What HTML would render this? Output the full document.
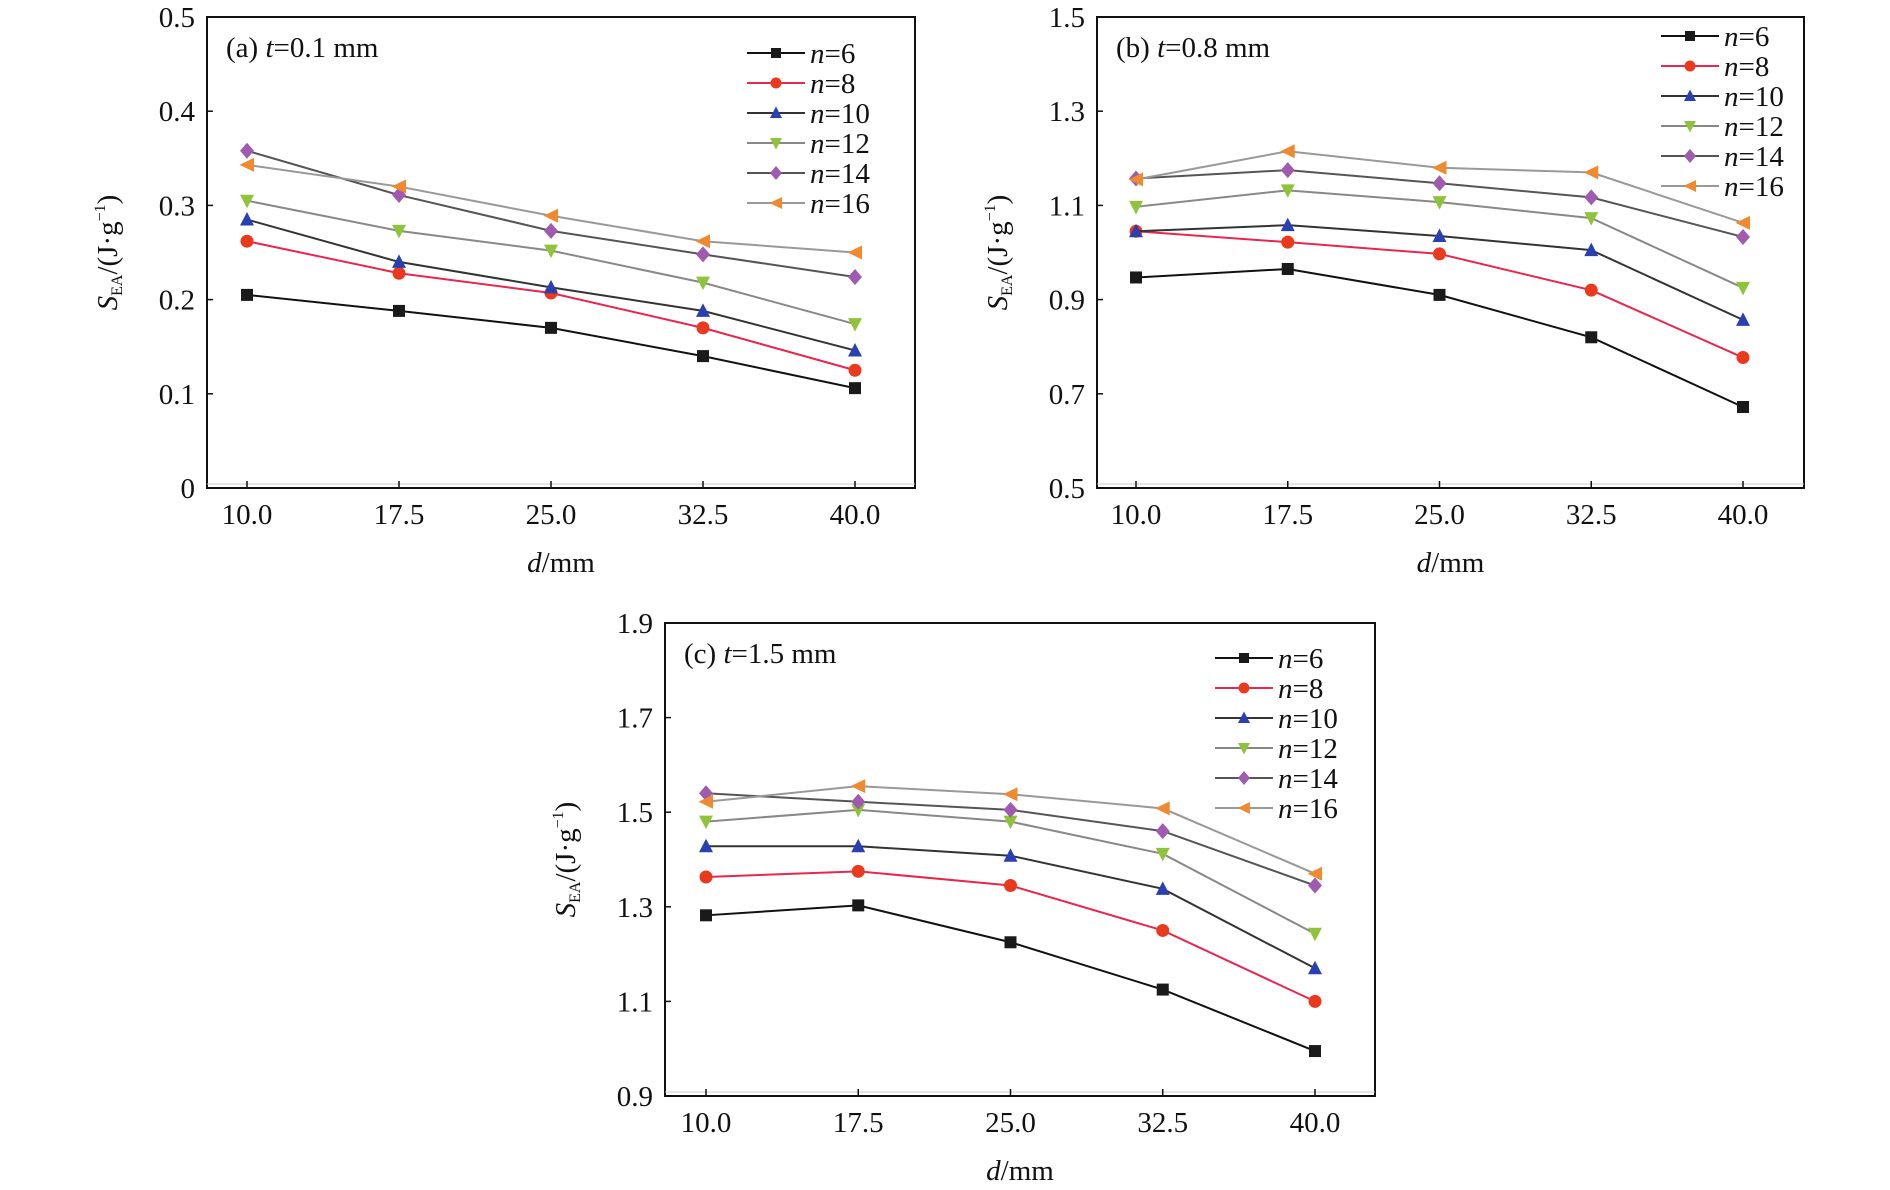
<!DOCTYPE html>
<html><head><meta charset="utf-8">
<style>
html,body{margin:0;padding:0;background:#fff;}
svg{display:block;font-family:"Liberation Serif","Times New Roman",serif;}
</style></head>
<body>
<svg id="fig" width="1890" height="1190" viewBox="0 0 1890 1190" xmlns="http://www.w3.org/2000/svg"></svg>
<script>
const categories = [10.0, 17.5, 25.0, 32.5, 40.0];
const xTickLabels = ["10.0","17.5","25.0","32.5","40.0"];
const seriesNames = ["6","8","10","12","14","16"];

const aN6  = [0.205,0.188,0.170,0.140,0.106];
const aN8  = [0.262,0.228,0.207,0.170,0.125];
const aN10 = [0.285,0.240,0.213,0.188,0.146];
const aN12 = [0.305,0.273,0.252,0.218,0.174];
const aN14 = [0.358,0.311,0.273,0.248,0.224];
const aN16 = [0.343,0.320,0.289,0.262,0.250];
const aYTicks = ["0","0.1","0.2","0.3","0.4","0.5"];

const bN6  = [0.947,0.965,0.910,0.820,0.672];
const bN8  = [1.045,1.022,0.997,0.920,0.777];
const bN10 = [1.045,1.058,1.035,1.005,0.857];
const bN12 = [1.097,1.132,1.107,1.073,0.925];
const bN14 = [1.157,1.175,1.147,1.117,1.033];
const bN16 = [1.155,1.215,1.180,1.170,1.063];
const bYTicks = ["0.5","0.7","0.9","1.1","1.3","1.5"];

const cN6  = [1.282,1.303,1.225,1.125,0.995];
const cN8  = [1.363,1.375,1.345,1.250,1.100];
const cN10 = [1.428,1.428,1.408,1.338,1.170];
const cN12 = [1.480,1.505,1.480,1.412,1.243];
const cN14 = [1.540,1.522,1.505,1.460,1.345];
const cN16 = [1.522,1.555,1.538,1.508,1.370];
const cYTicks = ["0.9","1.1","1.3","1.5","1.7","1.9"];

const NS="http://www.w3.org/2000/svg";
const svg=document.getElementById('fig');
function el(tag,attrs,parent){const e=document.createElementNS(NS,tag);for(const k in attrs)e.setAttribute(k,attrs[k]);(parent||svg).appendChild(e);return e;}

const styles=[
 {line:"#111",fill:"#1a1a1a",shape:"square"},
 {line:"#e8264e",fill:"#ea3a1e",shape:"circle"},
 {line:"#333",fill:"#2a3fb0",shape:"up"},
 {line:"#888",fill:"#8fc43a",shape:"down"},
 {line:"#555",fill:"#a05ab0",shape:"diamond"},
 {line:"#999",fill:"#f08a30",shape:"left"}
];
function marker(g,shape,x,y,fill,s){
  let m;
  if(shape==="square") m=el('rect',{x:x-s,y:y-s,width:2*s,height:2*s,fill:fill},g);
  else if(shape==="circle") m=el('circle',{cx:x,cy:y,r:s+0.5,fill:fill},g);
  else if(shape==="up") m=el('polygon',{points:`${x},${y-s-1.5} ${x-s-1},${y+s} ${x+s+1},${y+s}`,fill:fill},g);
  else if(shape==="down") m=el('polygon',{points:`${x},${y+s+1.5} ${x-s-1},${y-s} ${x+s+1},${y-s}`,fill:fill},g);
  else if(shape==="diamond") m=el('polygon',{points:`${x},${y-s-2} ${x+s+1},${y} ${x},${y+s+2} ${x-s-1},${y}`,fill:fill},g);
  else m=el('polygon',{points:`${x-s-1.5},${y} ${x+s+1},${y-s-1} ${x+s+1},${y+s+1}`,fill:fill},g);
  return m;
}

function panel(cfg){
  const g=el('g',{});
  
  
  const {L,R,T,B,x0px,x1px,ymin,ymax}=cfg;
  const xs=v=>x0px+(v-categories[0])/(categories[4]-categories[0])*(x1px-x0px);
  const ys=v=>B-(v-ymin)/(ymax-ymin)*(B-T);
  const frame=el('rect',{x:L,y:T,width:R-L,height:B-T,fill:"none",stroke:"#111","stroke-width":2},g);
  
  
  el('line',{x1:L,y1:B-4,x2:R,y2:B-4,stroke:"#ccc","stroke-width":1},g);
  // y ticks
  cfg.yTicks.forEach(t=>{
    const v=parseFloat(t),y=ys(v);
    el('line',{x1:L,y1:y,x2:L+6,y2:y,stroke:"#111","stroke-width":1.5},g);
    const tx=el('text',{x:L-12,y:y+10,"text-anchor":"end","font-size":29,fill:"#111"},g);
    tx.textContent=t;
    
    
  });
  categories.forEach((c,i)=>{
    const x=xs(c);
    el('line',{x1:x,y1:B,x2:x,y2:B-7,stroke:"#111","stroke-width":1.5},g);
    const tx=el('text',{x:x,y:B+36,"text-anchor":"middle","font-size":29,fill:"#111"},g);
    tx.textContent=xTickLabels[i];
    
    
  });
  // axis titles
  const xt=el('text',{x:(L+R)/2,y:B+84,"text-anchor":"middle","font-size":29,fill:"#111"},g);
  xt.innerHTML='<tspan font-style="italic">d</tspan>/mm';
  
  
  const ytx=L-90, yty=(T+B)/2;
  const yt=el('text',{x:ytx,y:yty,"text-anchor":"middle","font-size":29,fill:"#111",transform:`rotate(-90 ${ytx} ${yty})`},g);
  yt.innerHTML='<tspan font-style="italic">S</tspan><tspan font-size="16" dy="5">EA</tspan><tspan dy="-5">/(J·g</tspan><tspan font-size="16" dy="-12">−1</tspan><tspan dy="12">)</tspan>';
  
  
  // panel label
  const pl=el('text',{x:L+19,y:T+40,"font-size":29,fill:"#111"},g);
  pl.innerHTML=`(${cfg.letter}) <tspan font-style="italic">t</tspan>=${cfg.t} mm`;
  
  
  // series
  cfg.series.forEach((arr,si)=>{
    const st=styles[si];
    const sg=el('g',{},g);
    
    
    const pts=arr.map((v,i)=>xs(categories[i])+','+ys(v)).join(' ');
    el('polyline',{points:pts,fill:"none",stroke:st.line,"stroke-width":2},sg);
    arr.forEach((v,i)=>{
      const m=marker(sg,st.shape,xs(categories[i]),ys(v),st.fill,6);
      
      
    });
  });
  // legend
  const lg=el('g',{},g);
  
  
  seriesNames.forEach((n,si)=>{
    const st=styles[si], y=cfg.legY+si*30;
    const eg=el('g',{},lg);
    
    
    el('line',{x1:cfg.legX,y1:y,x2:cfg.legX+58,y2:y,stroke:st.line,"stroke-width":2},eg);
    marker(eg,st.shape,cfg.legX+29,y,st.fill,5);
    const t=el('text',{x:cfg.legX+63,y:y+10,"font-size":29,fill:"#111"},eg);
    t.innerHTML=`<tspan font-style="italic">n</tspan>=${n}`;
  });
}

panel({name:'panel-a',letter:'a',t:'0.1',L:207,R:915,T:17,B:488,x0px:247,x1px:855,ymin:0,ymax:0.5,yTicks:aYTicks,
  series:[aN6,aN8,aN10,aN12,aN14,aN16],legX:747,legY:53});
panel({name:'panel-b',letter:'b',t:'0.8',L:1097,R:1804,T:17,B:488,x0px:1136,x1px:1743,ymin:0.5,ymax:1.5,yTicks:bYTicks,
  series:[bN6,bN8,bN10,bN12,bN14,bN16],legX:1661,legY:36});
panel({name:'panel-c',letter:'c',t:'1.5',L:665,R:1375,T:623,B:1096,x0px:706,x1px:1315,ymin:0.9,ymax:1.9,yTicks:cYTicks,
  series:[cN6,cN8,cN10,cN12,cN14,cN16],legX:1215,legY:658});
</script>
</body></html>
